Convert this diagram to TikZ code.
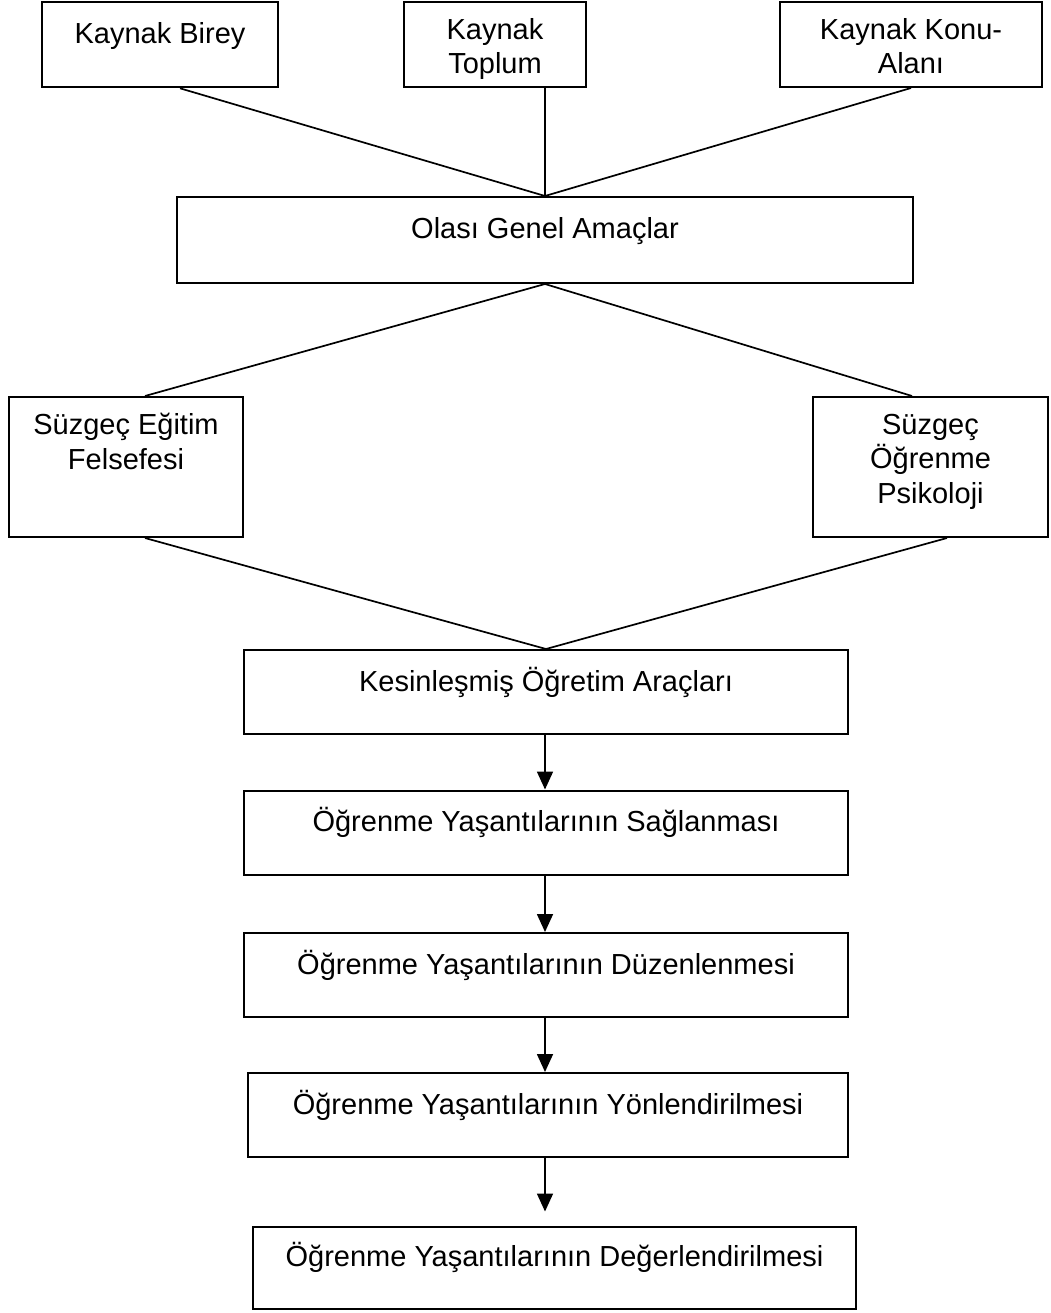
\documentclass[tikz,border=0pt]{standalone}
\usepackage{fontspec}
\usetikzlibrary{arrows.meta}
\newfontfamily\yazifont{Liberation Sans}
\newcommand\yazi{\yazifont\fontsize{29}{34.5}\selectfont}

\begin{document}
\begin{tikzpicture}[x=1pt, y=-1pt,
    kutu/.style={draw, line width=2pt, inner sep=0pt, align=center, font=\yazi,
                 text height=20pt, text depth=22pt, minimum height=85pt},
    uzun/.style={kutu, minimum height=140pt},
    bag/.style={line width=1.7pt},
    ok/.style={bag, -{Triangle[length=18pt, width=16pt]}}]
                \useasboundingbox (0,0) rectangle (1050,1313);
                % kaynaklar
                \node[kutu, minimum width=236pt, line width=2.6pt] (birey) at (160,44.5) {Kaynak Birey};
                \node[kutu, minimum width=182pt, text height=59pt, text depth=0pt] (toplum) at (495,44.5) {Kaynak\\Toplum};
                \node[kutu, minimum width=262pt, text height=59pt, text depth=0pt] (konu) at (911,44.5) {Kaynak Konu-\\Alanı};
                \node[kutu, minimum width=736pt, minimum height=86pt] (olasi) at (545,240) {Olası Genel Amaçlar};
                % süzgeçler
                \node[uzun, minimum width=234pt, text height=24pt, text depth=20pt] (egitim) at (126,467) {Süzgeç Eğitim\\Felsefesi};
                \node[uzun, minimum width=235pt, text height=92pt, text depth=20pt] (ogrenme) at (930.5,467) {Süzgeç\\Öğrenme\\Psikoloji};
                % alt kutular
                \node[kutu, minimum width=604pt, minimum height=84pt] (kesin) at (546,692) {Kesinleşmiş Öğretim Araçları};
                \node[kutu, minimum width=604pt, minimum height=84pt] (sagla) at (546,832.5) {Öğrenme Yaşantılarının Sağlanması};
                \node[kutu, minimum width=604pt, minimum height=84pt] (duzen) at (546,975) {Öğrenme Yaşantılarının Düzenlenmesi};
                \node[kutu, minimum width=600pt, minimum height=84pt] (yon) at (548,1115) {Öğrenme Yaşantılarının Yönlendirilmesi};
                \node[kutu, minimum width=603pt, minimum height=82pt] (deger) at (554.5,1267.5) {Öğrenme Yaşantılarının Değerlendirilmesi};

                \draw[bag] ([xshift=20pt]birey.south) -- (olasi.north);
                \draw[bag] (toplum.south -| olasi.north) -- (olasi.north);
                \draw[bag] (konu.south) -- (olasi.north);
                \draw[bag] ([xshift=19pt]egitim.north) -- (olasi.south) -- ([xshift=-18.5pt]ogrenme.north);
                \draw[bag] ([xshift=19pt]egitim.south) -- (kesin.north) -- ([xshift=16.5pt]ogrenme.south);
                \foreach \a/\b in {kesin/sagla, sagla/duzen, duzen/yon} {
                    \draw[ok] (\a.south -| olasi.south) -- (\b.north -| olasi.south);
                }
                \draw[ok, shorten >=14pt] (yon.south -| olasi.south) -- (deger.north -| olasi.south);
            \end{tikzpicture}
\end{document}
